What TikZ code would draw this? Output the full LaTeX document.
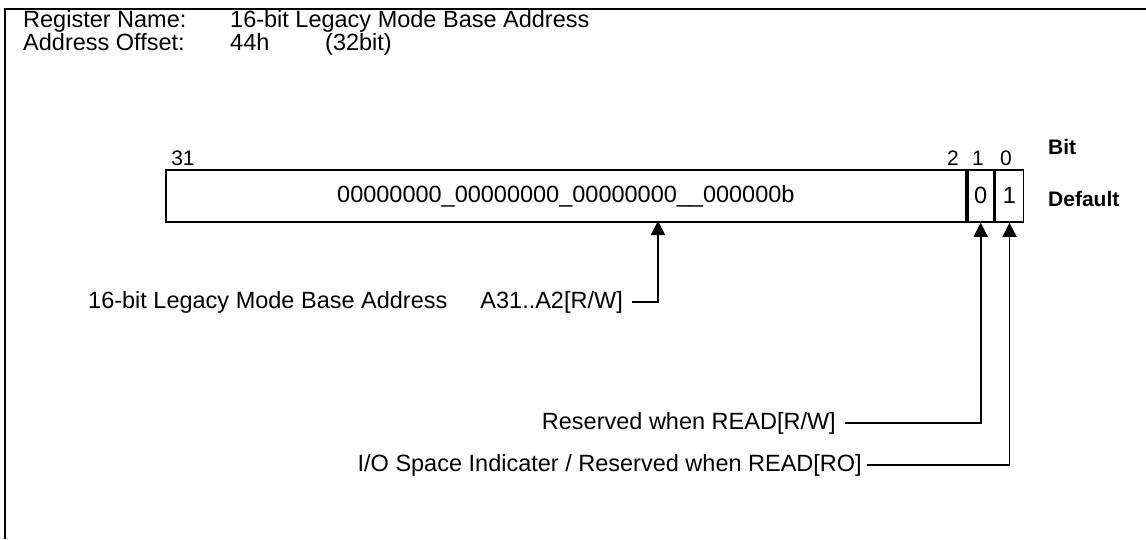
\documentclass[tikz,border=0pt]{standalone}
\usepackage{fontspec}
\setmainfont{Liberation Sans}
\usetikzlibrary{arrows.meta,positioning}
\tikzset{
  frame/.style={
    line width=2.2pt
  },
  field/.style={
    draw,
    shape = rectangle,
    line width = 1.8pt,
    minimum height = 52pt,
    inner sep = 0pt,
    anchor = north west
  },
  hdr/.style={
    anchor = base west,
    inner sep = 0pt
  },
  bitno/.style={
    anchor = base,
    font = \fontsize{21}{25}\selectfont,
    inner sep = 0pt
  },
  legend/.style={
    anchor = base west,
    font = \fontsize{21}{25}\selectfont\bfseries,
    inner sep = 0pt
  },
  desc/.style={
    anchor = east,
    inner sep = 0pt
  },
  ptr/.style={
    line width = 1.8pt,
    -{Triangle[width=14pt,length=14pt]}
  }
}

\begin{document}
\begin{tikzpicture}[x=1pt,y=-1pt,font=\fontsize{23.5}{26}\selectfont]
  \useasboundingbox (0,0) rectangle (1146,539);

  % frame
  \draw[frame] (5,539) -- (5,9) -- (1146,9);

  % header
  \node[hdr] (regname) at (23,27) {Register Name:};
  \node[hdr] (regval)  at (230,27) {16-bit Legacy Mode Base Address};
  \node[hdr] (offname) at (23,50) {Address Offset:};
  \node[hdr] (offval)  at (230,50) {44h};
  \node[hdr] (offwid)  at (325,50) {(32bit)};

  % register fields
  \node[field, minimum width=800pt] (addr) at (165,169) {00000000\_00000000\_00000000\_\_000000b};
  \node[field, minimum width=26pt] (b1) at (addr.north east) {0};
  \node[field, minimum width=28pt] (b0) at (b1.north east) {1};

  \node[bitno] (n31) at (183,165) {31};
  \node[bitno] (n2)  at (953,165) {2};
  \node[bitno] (n1)  at (978,165) {1};
  \node[bitno] (n0)  at (1006,165) {0};

  \node[legend] (bitlbl) at (1048,154) {Bit};
  \node[legend] (deflbl) at (1048,206) {Default};

  % descriptions
  \node[desc, anchor=west] (lblAname) at (88,302) {16-bit Legacy Mode Base Address};
  \node[desc] (lblA) at (623,302) {A31..A2[R/W]};
  \node[desc] (lblB) at (836,423) {Reserved when READ[R/W]};
  \node[desc] (lblC) at (862,465) {I/O Space Indicater / Reserved when READ[RO]};

  \coordinate (tipA) at (658,221);
  \draw[ptr] ([xshift=9pt]lblA.east) -| (tipA);
  \draw[ptr] ([xshift=9pt]lblB.east) -| (b1.south);
  \draw[ptr] ([xshift=5pt]lblC.east) -| (b0.south);
\end{tikzpicture}
\end{document}
